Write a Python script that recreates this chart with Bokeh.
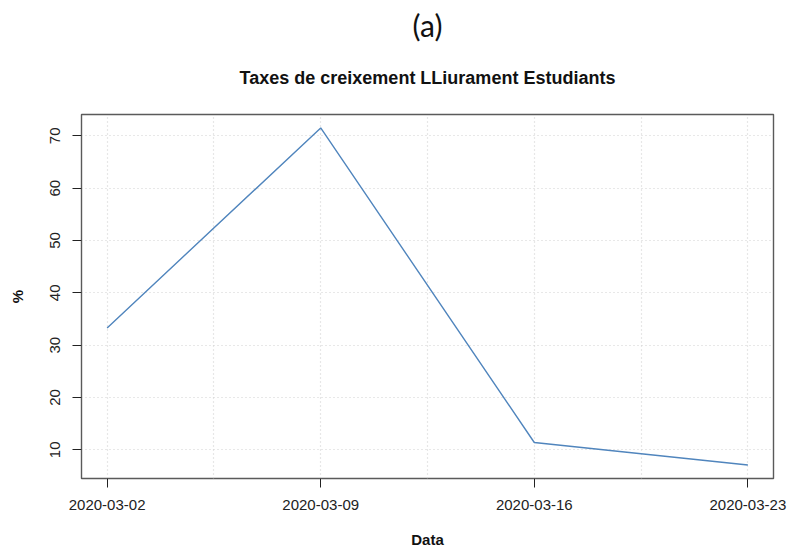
import datetime as dt
from bokeh.plotting import figure
from bokeh.models import (FixedTicker, DatetimeTickFormatter, Range1d, Title,
                          ColumnDataSource)
from bokeh.embed import file_html
from bokeh.resources import INLINE

# ---- data ----
dates = ["2020-03-02", "2020-03-09", "2020-03-16", "2020-03-23"]
rates = [33.3, 71.5, 11.4, 7.1]
y_ticks = [10, 20, 30, 40, 50, 60, 70]
main_title = "Taxes de creixement LLiurament Estudiants"
panel_label = "(a)"
x_label = "Data"
y_label = "%"

EPOCH = dt.datetime(1970, 1, 1)
xs = [dt.datetime.strptime(d, "%Y-%m-%d") for d in dates]
src = ColumnDataSource(dict(x=xs, y=rates))

tick_ms = [(d - EPOCH).total_seconds() * 1000 for d in xs]
x0, x1 = tick_ms[0], tick_ms[-1]
xpad = (x1 - x0) * 0.04
ypad = (max(rates) - min(rates)) * 0.04
grid_ms = [x0 + i * (x1 - x0) / 6 for i in range(7)]

p = figure(width=787, height=550, x_axis_type="datetime",
           output_backend="svg", toolbar_location=None,
           x_range=Range1d(x0 - xpad, x1 + xpad),
           y_range=Range1d(min(rates) - ypad, max(rates) + ypad),
           min_border_left=81, min_border_right=14,
           min_border_top=114, min_border_bottom=72)

p.line("x", "y", source=src, line_color="#5085bd", line_width=1.4)

# outer title "(a)"
p.title.text = panel_label
p.title.text_font = "Lato"
p.title.text_font_size = "30px"
p.title.text_font_style = "normal"
p.title.text_color = "#111111"
p.title.align = "center"
p.title.standoff = -9
# inner bold title
p.add_layout(Title(text=main_title, align="center", text_font="Liberation Sans",
                   text_font_size="18px", text_font_style="bold",
                   text_color="#111111", standoff=54), "above")

p.outline_line_color = "#5a5a5a"
p.outline_line_width = 1.4
p.background_fill_color = "white"
p.border_fill_color = "white"

for ax in (p.xaxis[0], p.yaxis[0]):
    ax.axis_line_color = None
    ax.major_tick_line_color = "#222222"
    ax.major_tick_out = 9
    ax.major_tick_in = 0
    ax.minor_tick_line_color = None
    ax.major_label_text_font = "Liberation Sans"
    ax.major_label_text_font_size = "15px"
    ax.major_label_text_color = "#222222"
    ax.major_label_standoff = 12
    ax.axis_label_text_font = "Liberation Sans"
    ax.axis_label_text_font_size = "15px"
    ax.axis_label_text_font_style = "bold"
    ax.axis_label_text_color = "#111111"

p.xaxis.ticker = FixedTicker(ticks=tick_ms)
p.xaxis.formatter = DatetimeTickFormatter(days="%Y-%m-%d", months="%Y-%m-%d")
p.xaxis.axis_label = x_label
p.xaxis.axis_label_standoff = 18

p.yaxis.ticker = FixedTicker(ticks=y_ticks)
p.yaxis.major_label_orientation = "vertical"
p.yaxis.axis_label = y_label
p.yaxis.axis_label_standoff = 22

p.xgrid.ticker = FixedTicker(ticks=grid_ms)
for g in (p.xgrid[0], p.ygrid[0]):
    g.grid_line_color = "#d0d0d0"
    g.grid_line_dash = "1 3"
    g.grid_line_width = 1.2

open("out.html", "w").write(file_html(p, INLINE))
